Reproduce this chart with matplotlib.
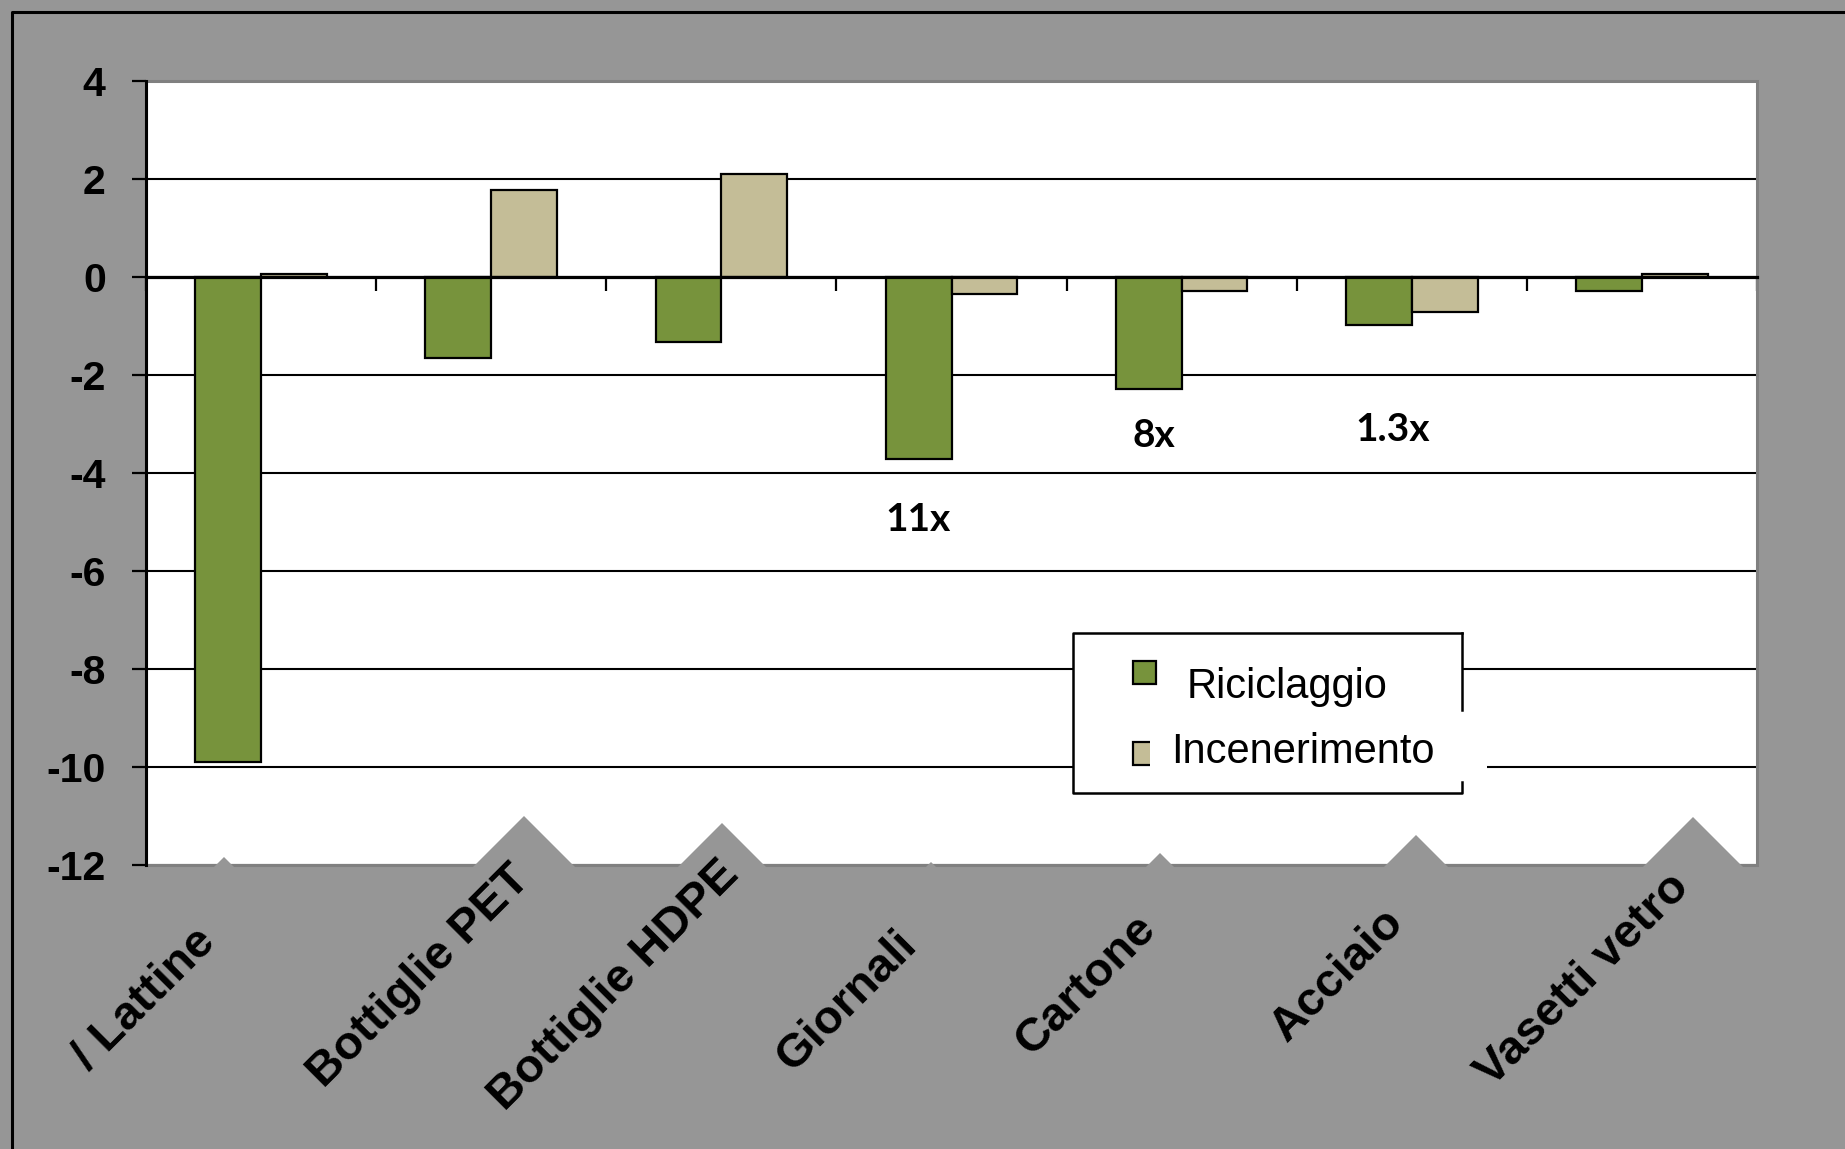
import numpy as np
import matplotlib
matplotlib.use("Agg")
import matplotlib.pyplot as plt
from matplotlib.patches import Rectangle, Polygon
from matplotlib.lines import Line2D

# ---- data -------------------------------------------------------------
categories = ["/ Lattine", "Bottiglie PET", "Bottiglie HDPE", "Giornali",
              "Cartone", "Acciaio", "Vasetti vetro"]
series_names = ["Riciclaggio", "Incenerimento"]
riciclaggio = [-9.90, -1.66, -1.32, -3.72, -2.28, -0.97, -0.29]
incenerimento = [0.07, 1.78, 2.11, -0.34, -0.29, -0.72, 0.06]
ratio_labels = ["11x", "8x", "1.3x"]
y_ticks = [-12, -10, -8, -6, -4, -2, 0, 2, 4]

# ---- styles / layout --------------------------------------------------
GRAY = "#969696"
GREEN = "#77933C"
BEIGE = "#C4BD97"
BORDER = "#808080"
W, H, DPI = 1845, 1149, 100

plt.rcParams["font.family"] = ["Liberation Sans", "DejaVu Sans"]


def fx(px):
    return px / W


def fy(py):
    return 1 - py / H


# label centres (pixels) for the rotated category names
label_xy = [(144, 999), (419, 976), (614, 986), (847, 1001),
            (1086, 985), (1338, 975), (1583, 980)]
# label backing shapes: apex of each peak (pixels)
peak_xy = [(224, 857), (524, 816), (722, 823), (931, 862),
           (1160, 853), (1416, 835), (1693, 817)]
# ratio annotations in data coordinates
ratio_pos = [(2.854, -4.94), (3.879, -3.24), (4.917, -3.12)]

fig = plt.figure(figsize=(W / DPI, H / DPI), dpi=DPI, facecolor=GRAY)

ax = fig.add_axes([fx(146), fy(865), (1757 - 146) / W, (865 - 81) / H])
ax.set_facecolor("white")

x = np.arange(len(categories))
bw = 0.286
ax.bar(x - bw / 2, riciclaggio, bw, color=GREEN, edgecolor="black",
       linewidth=1.6, label=series_names[0], zorder=2)
ax.bar(x + bw / 2, incenerimento, bw, color=BEIGE, edgecolor="black",
       linewidth=1.6, label=series_names[1], zorder=2)

ax.set_xlim(-0.5, len(categories) - 0.5)
ax.set_ylim(-12, 4)

# horizontal grid
ax.set_yticks(y_ticks)
ax.set_yticklabels([str(v) for v in y_ticks])
ax.yaxis.grid(True, color="black", linewidth=1.5)
ax.set_axisbelow(True)

# category axis sits on zero with separators between groups
ax.spines["bottom"].set_position(("data", 0))
ax.spines["bottom"].set_linewidth(2.3)
ax.spines["bottom"].set_zorder(3)
ax.set_xticks(np.arange(-0.5, len(categories), 1.0))
ax.tick_params(axis="x", direction="out", length=10, width=1.6,
               labelbottom=False)
ax.spines["left"].set_linewidth(2.2)
ax.spines["left"].set_zorder(3.1)
ax.spines["top"].set_visible(False)
ax.spines["right"].set_visible(False)
ax.tick_params(axis="y", direction="out", length=10, width=1.6,
               labelsize=29.5, pad=19)
for t in ax.get_yticklabels():
    t.set_fontweight("bold")

# plot area outline
ax.add_patch(Rectangle((0, 0), 1, 1, transform=ax.transAxes, fill=False,
                       edgecolor=BORDER, linewidth=2.2, zorder=2.6,
                       clip_on=False))

# ratio annotations
for (tx, ty), s in zip(ratio_pos, ratio_labels):
    ax.text(tx, ty, s, ha="center", va="center", fontsize=28,
            fontweight="bold", family=["Lato", "DejaVu Sans"], zorder=4)

# outer frame line
fig.add_artist(Line2D([fx(11.5), fx(11.5), fx(W)],
                      [fy(H), fy(11.5), fy(11.5)],
                      transform=fig.transFigure, color="black",
                      linewidth=2.2, zorder=1))

# gray backing of the category labels
for px, py in peak_xy:
    h = 872 - py
    fig.add_artist(Polygon([(fx(px - h), fy(872)), (fx(px), fy(py)),
                            (fx(px + h), fy(872))],
                           closed=True, transform=fig.transFigure,
                           facecolor=GRAY, edgecolor="none", zorder=3))

# category labels
for (px, py), name in zip(label_xy, categories):
    fig.text(fx(px), fy(py), name, rotation=45, rotation_mode="anchor",
             ha="center", va="center", fontsize=34, fontweight="bold",
             zorder=5)

# legend box
lx0, ly0, lx1, ly1 = 1073, 633, 1462, 793
fig.add_artist(Rectangle((fx(lx0), fy(ly1)), fx(lx1 - lx0), (ly1 - ly0) / H,
                         transform=fig.transFigure, facecolor="white",
                         edgecolor="none", zorder=4))
fig.add_artist(Rectangle((fx(lx1), fy(782)), fx(1487 - lx1), (782 - 710) / H,
                         transform=fig.transFigure, facecolor="white",
                         edgecolor="none", zorder=4))
for xs, ys in [([lx1, lx1], [710, ly0]), ([lx1, lx0, lx0, lx1, lx1],
                                           [ly0, ly0, ly1, ly1, 782])]:
    fig.add_artist(Line2D([fx(v) for v in xs], [fy(v) for v in ys],
                          transform=fig.transFigure, color="black",
                          linewidth=1.8, zorder=4.2))

fig.add_artist(Rectangle((fx(1133), fy(684)), fx(23), 23 / H,
                         transform=fig.transFigure, facecolor=GREEN,
                         edgecolor="black", linewidth=1.6, zorder=4.3))
fig.add_artist(Rectangle((fx(1133), fy(765)), fx(23), 23 / H,
                         transform=fig.transFigure, facecolor=BEIGE,
                         edgecolor="black", linewidth=1.6, zorder=4.3))
fig.add_artist(Rectangle((fx(1150), fy(770)), fx(14), 32 / H,
                         transform=fig.transFigure, facecolor="white",
                         edgecolor="none", zorder=4.4))
fig.text(fx(1187), fy(698), series_names[0], ha="left", va="baseline",
         fontsize=30, zorder=4.5)
fig.text(fx(1171), fy(763), series_names[1], ha="left", va="baseline",
         fontsize=30, zorder=4.5)

fig.savefig("out.png", dpi=DPI, facecolor=GRAY)
